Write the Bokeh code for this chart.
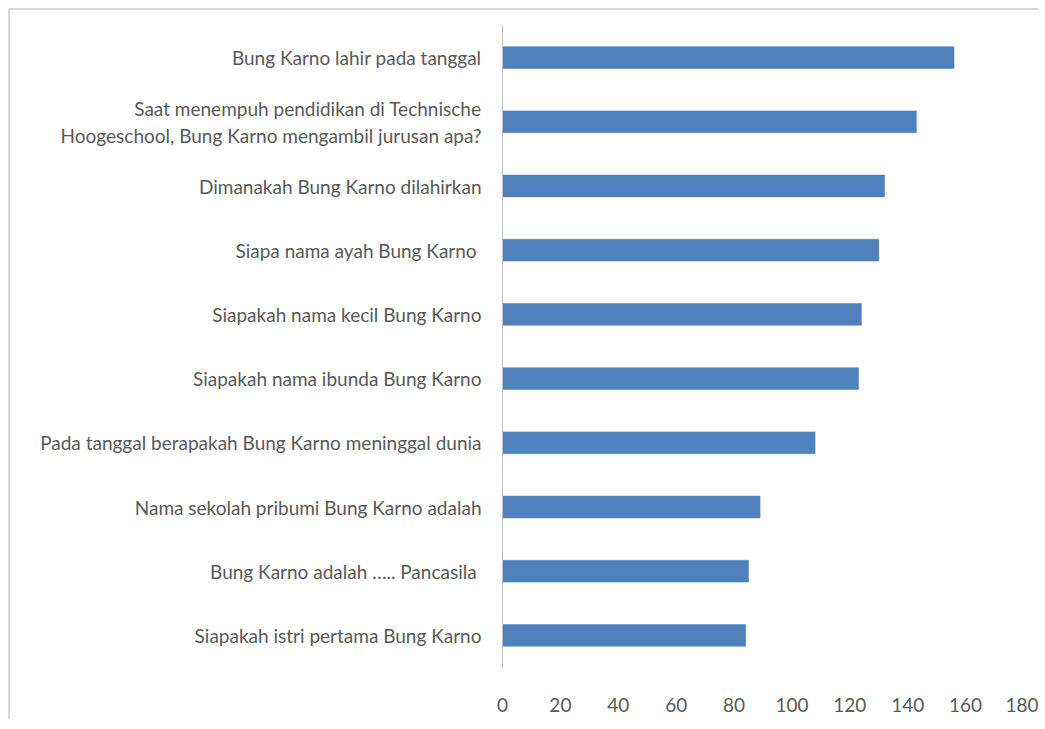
from bokeh.plotting import figure
from bokeh.models import FactorRange, Range1d, FixedTicker, ColumnDataSource
from bokeh.embed import file_html
from bokeh.resources import INLINE

questions = [
    "Bung Karno lahir pada tanggal",
    "Saat menempuh pendidikan di Technische\nHoogeschool, Bung Karno mengambil jurusan apa?",
    "Dimanakah Bung Karno dilahirkan",
    "Siapa nama ayah Bung Karno ",
    "Siapakah nama kecil Bung Karno",
    "Siapakah nama ibunda Bung Karno",
    "Pada tanggal berapakah Bung Karno meninggal dunia",
    "Nama sekolah pribumi Bung Karno adalah",
    "Bung Karno adalah ….. Pancasila ",
    "Siapakah istri pertama Bung Karno",
]
counts = [156, 143, 132, 130, 124, 123, 108, 89, 85, 84]
x_ticks = [0, 20, 40, 60, 80, 100, 120, 140, 160, 180]

FONT = "Lato"
FSIZE = "19px"
TCOL = "#595959"

source = ColumnDataSource(data=dict(q=questions, n=counts))

p = figure(
    width=1030, height=711,
    y_range=FactorRange(factors=list(reversed(questions)), range_padding=0),
    x_range=Range1d(0, 180),
    output_backend="svg", toolbar_location=None,
    min_border_left=492, min_border_right=17, min_border_top=15, min_border_bottom=54,
)
p.styles = {"margin-left": "8px", "margin-top": "8px",
            "border-left": "2px solid #d9d9d9", "border-top": "2px solid #d9d9d9"}

p.hbar(y="q", right="n", height=0.34, left=0, source=source,
       fill_color="#4F81BD", line_color="#4F81BD", line_width=0.5)

p.outline_line_color = None
p.xgrid.grid_line_color = None
p.ygrid.grid_line_color = None

p.xaxis.ticker = FixedTicker(ticks=x_ticks)
p.xaxis.axis_line_color = None
p.xaxis.major_tick_line_color = None
p.xaxis.minor_tick_line_color = None
p.xaxis.major_tick_out = 0
p.xaxis.major_label_standoff = 30
p.xaxis.major_label_text_font = FONT
p.xaxis.major_label_text_font_size = FSIZE
p.xaxis.major_label_text_color = TCOL

p.yaxis.axis_line_color = "#bfbfbf"
p.yaxis.axis_line_width = 1
p.yaxis.major_tick_line_color = None
p.yaxis.major_tick_out = 0
p.yaxis.major_label_standoff = 21
p.yaxis.major_label_text_font = FONT
p.yaxis.major_label_text_font_size = FSIZE
p.yaxis.major_label_text_color = TCOL

open("out.html", "w").write(file_html(p, INLINE))
